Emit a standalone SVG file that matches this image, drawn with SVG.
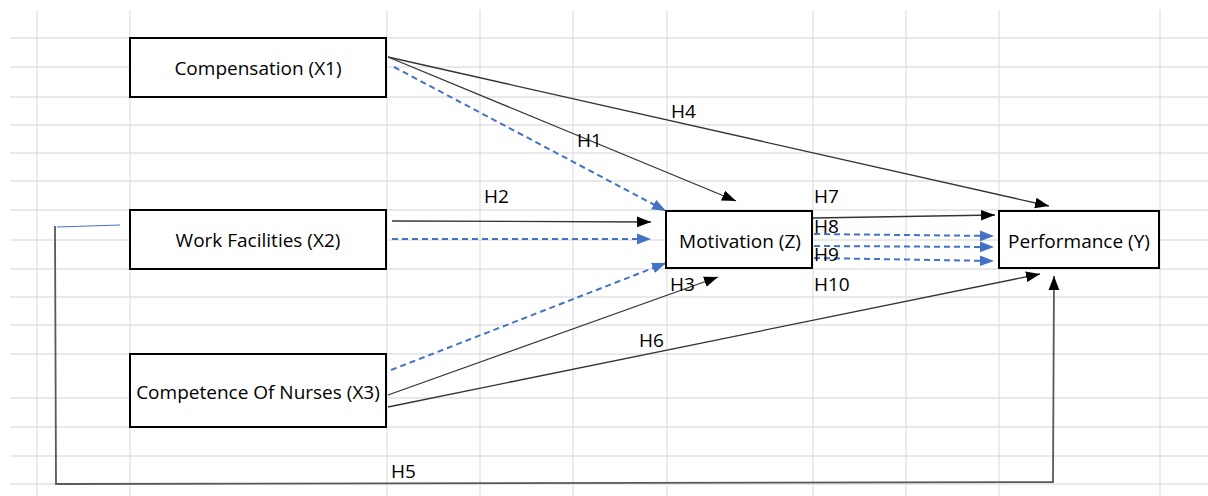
<svg xmlns="http://www.w3.org/2000/svg" width="1208" height="496" viewBox="0 0 1208 496">
<style>
.grid line{stroke:#e2e2e2;stroke-width:1.3}
.box{fill:#fff;stroke:#000;stroke-width:2}
.lbl{font-family:"Open Sans","Liberation Sans",sans-serif;font-size:19px;fill:#000}
.nt{font-family:"Open Sans","Liberation Sans",sans-serif;font-size:19px;fill:#000;text-anchor:middle;dominant-baseline:central}
.solid{stroke:#333;stroke-width:1.3;fill:none}
.dash{stroke:#4472C4;stroke-width:2;stroke-dasharray:6 4;fill:none}
</style>
<defs>
<marker id="ab" markerUnits="userSpaceOnUse" markerWidth="14" markerHeight="12" viewBox="0 0 13 10" refX="13" refY="5" orient="auto"><path d="M0,0 L13,5 L0,10 z" fill="#000"/></marker>
<marker id="au" markerUnits="userSpaceOnUse" markerWidth="14" markerHeight="12" viewBox="0 0 13 10" refX="13" refY="5" orient="auto"><path d="M0,0 L13,5 L0,10 z" fill="#4472C4"/></marker>
</defs>
<rect width="1208" height="496" fill="#fff"/>
<g class="grid">
<line x1="10" y1="38" x2="1208" y2="38"/><line x1="10" y1="67" x2="1208" y2="67"/><line x1="10" y1="97" x2="1208" y2="97"/>
<line x1="10" y1="125" x2="1208" y2="125"/><line x1="10" y1="153" x2="1208" y2="153"/><line x1="10" y1="181" x2="1208" y2="181"/>
<line x1="10" y1="210" x2="1208" y2="210"/><line x1="10" y1="240" x2="1208" y2="240"/><line x1="10" y1="269" x2="1208" y2="269"/>
<line x1="10" y1="297" x2="1208" y2="297"/><line x1="10" y1="325" x2="1208" y2="325"/><line x1="10" y1="354" x2="1208" y2="354"/>
<line x1="10" y1="398" x2="1208" y2="398"/><line x1="10" y1="427" x2="1208" y2="427"/><line x1="10" y1="456" x2="1208" y2="456"/>
<line x1="10" y1="484" x2="1208" y2="484"/>
<line x1="37" y1="10" x2="37" y2="496"/><line x1="130" y1="10" x2="130" y2="496"/><line x1="387" y1="10" x2="387" y2="496"/>
<line x1="480" y1="10" x2="480" y2="496"/><line x1="573" y1="10" x2="573" y2="496"/><line x1="667" y1="10" x2="667" y2="496"/>
<line x1="813" y1="10" x2="813" y2="496"/><line x1="906" y1="10" x2="906" y2="496"/><line x1="999" y1="10" x2="999" y2="496"/>
<line x1="1160" y1="10" x2="1160" y2="496"/>
</g>
<g id="connectors">
<line class="solid" x1="388" y1="57" x2="1049" y2="206" marker-end="url(#ab)" stroke="#595959"/>
<line class="solid" x1="388" y1="57" x2="736" y2="201" marker-end="url(#ab)"/>
<line class="dash" x1="394" y1="67" x2="666" y2="211" marker-end="url(#au)"/>
<line class="solid" x1="392" y1="221" x2="651" y2="222" marker-end="url(#ab)"/>
<line class="dash" x1="392" y1="239" x2="651" y2="239" marker-end="url(#au)"/>
<line class="dash" x1="391" y1="370" x2="666" y2="263" marker-end="url(#au)"/>
<line class="solid" x1="388" y1="395" x2="718" y2="277" marker-end="url(#ab)" stroke="#444"/>
<line class="solid" x1="388" y1="407" x2="1040" y2="274" marker-end="url(#ab)" stroke="#4d4d4d"/>
<line class="solid" x1="813" y1="218" x2="995" y2="215" marker-end="url(#ab)"/>
<line class="dash" x1="814" y1="234" x2="994" y2="236" marker-end="url(#au)"/>
<line class="dash" x1="814" y1="246" x2="994" y2="247" marker-end="url(#au)"/>
<line class="dash" x1="814" y1="258" x2="994" y2="261" marker-end="url(#au)"/>
<line x1="57" y1="227" x2="120" y2="225" stroke="#4472C4" stroke-width="1.2"/>
<polyline points="55,226 56,484 1053,482 1054,276" fill="none" stroke="#595959" stroke-width="1.8" marker-end="url(#ab)"/>
</g>
<g id="labels">
<text class="lbl" x="577" y="147">H1</text>
<text class="lbl" x="671" y="118">H4</text>
<text class="lbl" x="484" y="203">H2</text>
<text class="lbl" x="670" y="291">H3</text>
<text class="lbl" x="639" y="347">H6</text>
<text class="lbl" x="391" y="478">H5</text>
<text class="lbl" x="814" y="203">H7</text>
<text class="lbl" x="814" y="233">H8</text>
<text class="lbl" x="814" y="261">H9</text>
<text class="lbl" x="814" y="291">H10</text>
</g>
<g id="n_x1"><rect class="box" x="130" y="38" width="256" height="59"/><text class="nt" x="258" y="68">Compensation (X1)</text></g>
<g id="n_x2"><rect class="box" x="130" y="210" width="256" height="59"/><text class="nt" x="258" y="240">Work Facilities (X2)</text></g>
<g id="n_x3"><rect class="box" x="130" y="354" width="256" height="73"/><text class="nt" x="258" y="392">Competence Of Nurses (X3)</text></g>
<g id="n_z"><rect class="box" x="666" y="211" width="146" height="57"/><text class="nt" x="740" y="241">Motivation (Z)</text></g>
<g id="n_y"><rect class="box" x="999" y="211" width="160" height="57"/><text class="nt" x="1079" y="241">Performance (Y)</text></g>
</svg>
